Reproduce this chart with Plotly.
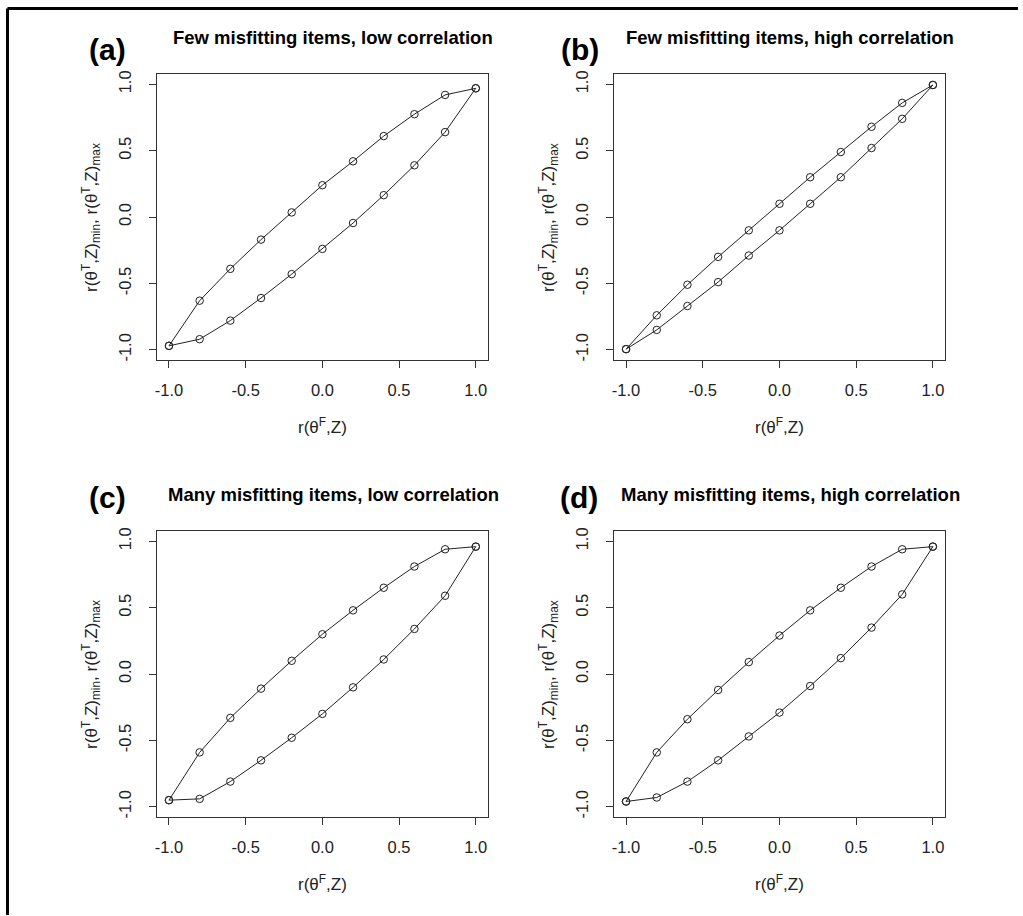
import plotly.graph_objects as go

# ---- data ----
x_vals = [-1.0, -0.8, -0.6, -0.4, -0.2, 0.0, 0.2, 0.4, 0.6, 0.8, 1.0]

a_max = [-0.97, -0.63, -0.39, -0.17, 0.035, 0.24, 0.42, 0.61, 0.775, 0.92, 0.97]
a_min = [-0.97, -0.92, -0.78, -0.61, -0.43, -0.24, -0.045, 0.165, 0.39, 0.64, 0.97]

b_max = [-0.995, -0.74, -0.51, -0.30, -0.10, 0.10, 0.30, 0.49, 0.68, 0.86, 0.995]
b_min = [-0.995, -0.85, -0.67, -0.49, -0.29, -0.10, 0.10, 0.30, 0.52, 0.74, 0.995]

c_max = [-0.95, -0.59, -0.33, -0.11, 0.10, 0.30, 0.48, 0.65, 0.81, 0.94, 0.96]
c_min = [-0.95, -0.94, -0.81, -0.65, -0.48, -0.30, -0.10, 0.11, 0.34, 0.59, 0.96]

d_max = [-0.96, -0.59, -0.34, -0.12, 0.09, 0.29, 0.48, 0.65, 0.81, 0.94, 0.96]
d_min = [-0.96, -0.93, -0.81, -0.65, -0.47, -0.29, -0.09, 0.12, 0.35, 0.60, 0.96]

panel_letters = ["(a)", "(b)", "(c)", "(d)"]
panel_titles = [
    "Few misfitting items, low correlation",
    "Few misfitting items, high correlation",
    "Many misfitting items, low correlation",
    "Many misfitting items, high correlation",
]
tick_vals = [-1.0, -0.5, 0.0, 0.5, 1.0]
tick_text = ["-1.0", "-0.5", "0.0", "0.5", "1.0"]
x_title = "r(θ<sup>F</sup>,Z)"
y_title = "r(θ<sup>T</sup>,Z)<sub>min</sub>, r(θ<sup>T</sup>,Z)<sub>max</sub>"

series = [(a_max, a_min), (b_max, b_min), (c_max, c_min), (d_max, d_min)]

# ---- layout geometry (pixels) ----
W, H = 1023, 916
FONT = "Arial, Liberation Sans, sans-serif"
boxes = [  # left, right, top, bottom
    (155, 487, 71, 359),
    (613, 945, 71, 359),
    (155, 487, 530, 818),
    (613, 945, 530, 818),
]
letter_pos = [(106, 47), (579, 47), (106, 497), (578, 497)]
title_pos = [(332, 35), (790, 35), (332, 494), (790, 494)]

def px(x):
    return x / W

def py(y):
    return 1 - y / H

fig = go.Figure()
layout = dict(
    width=W, height=H,
    margin=dict(l=0, r=0, t=0, b=0),
    paper_bgcolor="white", plot_bgcolor="white",
    showlegend=False,
    font=dict(family=FONT, color="#222"),
)
annotations = []
shapes = []

for i, ((ymax, ymin), (l, r, t, b)) in enumerate(zip(series, boxes)):
    n = i + 1
    xa = "x" if n == 1 else f"x{n}"
    ya = "y" if n == 1 else f"y{n}"
    for yv in (ymax, ymin):
        fig.add_trace(go.Scatter(
            x=x_vals, y=yv, xaxis=xa, yaxis=ya,
            mode="lines+markers",
            line=dict(color="#222", width=1),
            marker=dict(symbol="circle-open", size=7.5, color="#222", line=dict(width=1)),
            hoverinfo="skip",
        ))
    common = dict(
        range=[-1.08, 1.08], showgrid=False, zeroline=False,
        showline=True, mirror=True, linecolor="#333", linewidth=1,
        ticks="outside", ticklen=7, tickwidth=1, tickcolor="#333",
        tickvals=tick_vals, ticktext=tick_text,
        tickfont=dict(family=FONT, size=16.5, color="#222"),
    )
    layout["xaxis" + ("" if n == 1 else str(n))] = dict(
        common, domain=[px(l), px(r)], anchor=ya, ticklabelstandoff=8,
    )
    layout["yaxis" + ("" if n == 1 else str(n))] = dict(
        common, domain=[py(b), py(t)], anchor=xa, tickangle=-90, ticklabelstandoff=11,
    )
    cx = (l + r) / 2
    # x title
    annotations.append(dict(
        x=px(cx), y=py(b + 66), xref="paper", yref="paper",
        xanchor="center", yanchor="middle",
        text=x_title, showarrow=False,
        font=dict(family=FONT, size=17, color="#222"),
    ))
    # y title
    annotations.append(dict(
        x=px(l - 66), y=py((t + b) / 2), xref="paper", yref="paper",
        xanchor="center", yanchor="middle",
        text=y_title, textangle=-90, showarrow=False,
        font=dict(family=FONT, size=17, color="#222"),
    ))
    # panel title
    tx, ty = title_pos[i]
    annotations.append(dict(
        x=px(tx), y=py(ty), xref="paper", yref="paper",
        xanchor="center", yanchor="middle",
        text="<b>" + panel_titles[i] + "</b>", showarrow=False,
        font=dict(family=FONT, size=18.5, color="black"),
    ))
    # panel letter
    lx, ly = letter_pos[i]
    annotations.append(dict(
        x=px(lx), y=py(ly), xref="paper", yref="paper",
        xanchor="center", yanchor="middle",
        text="<b>" + panel_letters[i] + "</b>", showarrow=False,
        font=dict(family=FONT, size=30, color="black"),
    ))

# outer border (top and left)
shapes.append(dict(type="line", xref="paper", yref="paper",
                   x0=px(5.5), x1=px(1018), y0=py(5.5), y1=py(5.5),
                   line=dict(color="black", width=3)))
shapes.append(dict(type="line", xref="paper", yref="paper",
                   x0=px(5.5), x1=px(5.5), y0=py(5.5), y1=0,
                   line=dict(color="black", width=3)))

layout["annotations"] = annotations
layout["shapes"] = shapes
fig.update_layout(**layout)
fig.write_html("out.html", config={"displayModeBar": False},
               post_script="document.body.style.margin='0px';")
